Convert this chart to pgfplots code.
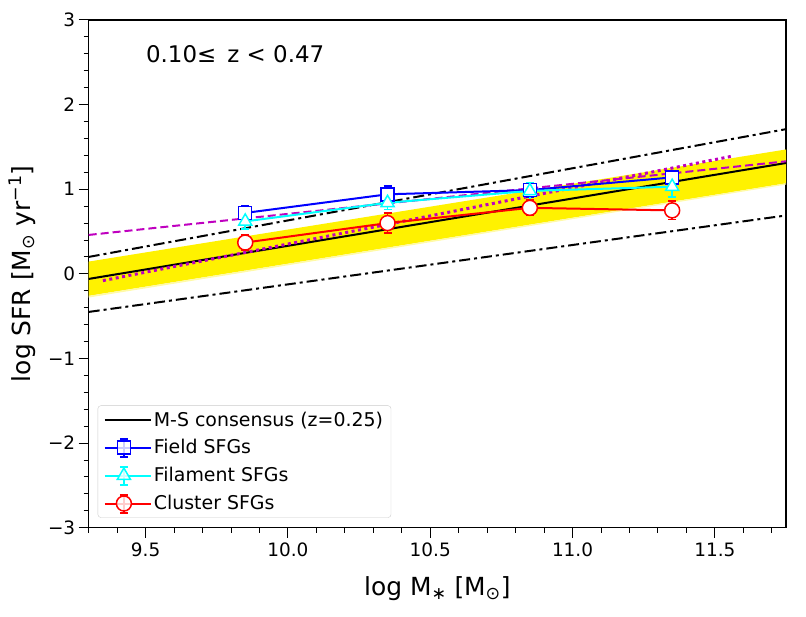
\documentclass[border=0pt]{standalone}
\usepackage{pgfplots}
\pgfplotsset{compat=1.18}
\usepackage{fontspec}
\setmainfont{DejaVu Sans}
\definecolor{mplm}{rgb}{0.75,0,0.75}
\definecolor{mplb}{rgb}{0,0,1}
\definecolor{mplc}{rgb}{0,1,1}
\definecolor{mplr}{rgb}{1,0,0}
\pgfplotsset{errlegend/.style={
  legend image code/.code={
    \path (0bp,0bp) -- (46bp,0bp);
    \draw[##1, mark=none] (19bp,-9bp) -- (19bp,9bp);
    \draw[##1, mark=none] (15bp,-9bp) -- (23bp,-9bp);
    \draw[##1, mark=none] (15bp,9bp) -- (23bp,9bp);
    \draw[mark repeat=2,mark phase=2,##1] plot coordinates {(0bp,0bp) (19bp,0bp) (38bp,0bp)};
  }},
  errstyle/.style={error bars/.cd, y dir=both, y explicit, error bar style={line width=1.5bp},
  error mark options={rotate=90, mark size=4bp, line width=1.5bp}}
}
\begin{document}
\begin{tikzpicture}
\path[use as bounding box] (-88.7bp,-89.3bp) rectangle (717.3bp,527.7bp);
\begin{axis}[
  scale only axis,
  width=697.3bp, height=507.7bp,
  xmin=9.3, xmax=11.75, ymin=-3, ymax=3,
  xtick={9.5,10,10.5,11,11.5},
  xticklabels={9.5,10.0,10.5,11.0,11.5},
  minor xtick={9.3,9.4,9.6,9.7,9.8,9.9,10.1,10.2,10.3,10.4,10.6,10.7,10.8,10.9,11.1,11.2,11.3,11.4,11.6,11.7},
  ytick={-3,-2,-1,0,1,2,3},
  yticklabels={−3,−2,−1,0,1,2,3},
  minor ytick={-2.8,-2.6,-2.4,-2.2,-1.8,-1.6,-1.4,-1.2,-0.8,-0.6,-0.4,-0.2,0.2,0.4,0.6,0.8,1.2,1.4,1.6,1.8,2.2,2.4,2.6,2.8},
  xtick pos=left, ytick pos=left,
  tick align=outside,
  major tick length=10bp, minor tick length=5bp,
  every tick/.style={black, line width=1bp},
  axis line style={line width=1.1bp},
  tick label style={font=\fontsize{18.5}{22}\selectfont},
  xticklabel style={yshift=-2bp},
  xlabel={log M\textsubscript{∗} [M\textsubscript{⊙}]},
  ylabel={log SFR [M\textsubscript{⊙} yr\textsuperscript{−1}]},
  label style={font=\fontsize{25}{30}\selectfont},
  xlabel style={at={(axis description cs:0.5,-0.12)}, anchor=center},
  ylabel style={at={(axis description cs:-0.095,0.5)}, anchor=center, rotate=0},
  legend cell align=left,
  legend style={at={(axis cs:9.3,-3)}, anchor=south west, xshift=9bp, yshift=10bp,
    font=\fontsize{19}{23}\selectfont, draw=black!20, rounded corners=3bp,
    fill=white, fill opacity=0.8, text opacity=1, row sep=8bp, inner xsep=6bp, inner ysep=4bp},
  legend image code/.code={
    \path (0bp,0bp) -- (46bp,0bp);
    \draw[mark repeat=2,mark phase=2,#1] plot coordinates {(0bp,0bp) (19bp,0bp) (38bp,0bp)};
  },
]
% yellow band
\addplot[fill=yellow, draw=none, forget plot] coordinates {(9.3,0.145) (11.75,1.47) (11.75,1.07) (9.3,-0.26)} -- cycle;
\addplot[fill=yellow!35, draw=none, forget plot] coordinates {(9.3,-0.26) (11.75,1.07) (11.75,1.055) (9.3,-0.28)} -- cycle;
% M-S consensus
\addplot[black, line width=2bp] coordinates {(9.3,-0.06) (11.75,1.31)};
\addlegendentry{M-S consensus (z=0.25)}
% dash-dot
\addplot[black, line width=2bp, dash pattern=on 11bp off 4bp on 3bp off 4bp, forget plot] coordinates {(9.3,0.20) (11.75,1.71)};
\addplot[black, line width=2bp, dash pattern=on 11bp off 4bp on 3bp off 4bp, forget plot] coordinates {(9.3,-0.45) (11.75,0.69)};
% magenta dashed and dotted
\addplot[mplm, line width=2bp, dash pattern=on 8bp off 4bp, forget plot] coordinates {(9.3,0.46) (11.75,1.33)};
\addplot[mplm, line width=3bp, dash pattern=on 3bp off 3.5bp, forget plot] coordinates {(9.35,-0.08) (11.56,1.39)};
% Field
\addplot[mplb, line width=2bp, mark=square*, mark size=6.5bp, mark options={fill=white, solid, line width=1.5bp},
  errlegend, errstyle]
  coordinates {(9.85,0.72) +- (0,0.09) (10.35,0.94) +- (0,0.10) (10.85,0.99) +- (0,0.08) (11.35,1.14) +- (0,0.06)};
\addlegendentry{Field SFGs}
% Filament
\addplot[mplc, line width=2bp, mark=triangle*, mark size=7.5bp, mark options={fill=white, solid, line width=1.5bp},
  errlegend, errstyle]
  coordinates {(9.85,0.62) +- (0,0.09) (10.35,0.84) +- (0,0.08) (10.85,0.98) +- (0,0.10) (11.35,1.03) +- (0,0.12)};
\addlegendentry{Filament SFGs}
% Cluster
\addplot[mplr, line width=2bp, mark=*, mark size=7.5bp, mark options={fill=white, solid, line width=1.5bp},
  errlegend, errstyle]
  coordinates {(9.85,0.37) +- (0,0.09) (10.35,0.60) +- (0,0.12) (10.85,0.78) +- (0,0.09) (11.35,0.75) +- (0,0.11)};
\addlegendentry{Cluster SFGs}
\node[anchor=west, font=\fontsize{23}{28}\selectfont, inner sep=0pt] at (axis description cs:0.082,0.933) {0.10≤\, z < 0.47};
\end{axis}
\end{tikzpicture}
\end{document}
